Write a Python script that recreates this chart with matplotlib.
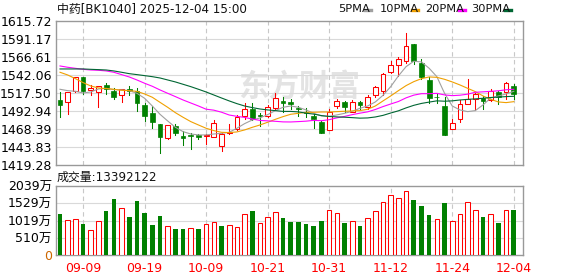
import matplotlib
matplotlib.use('Agg')
import matplotlib.pyplot as plt
from matplotlib.patches import Rectangle
from matplotlib.lines import Line2D

plt.rcParams['font.family'] = ['DejaVu Sans', 'Noto Sans CJK SC']

# ---------------- data ----------------
dates = ['09-04', '09-05', '09-08', '09-09', '09-10', '09-11', '09-12', '09-15', '09-16', '09-17',
         '09-18', '09-19', '09-22', '09-23', '09-24', '09-25', '09-26', '09-29', '09-30', '10-09',
         '10-10', '10-13', '10-14', '10-15', '10-16', '10-17', '10-20', '10-21', '10-22', '10-23',
         '10-24', '10-27', '10-28', '10-29', '10-30', '10-31', '11-03', '11-04', '11-05', '11-06',
         '11-07', '11-10', '11-11', '11-12', '11-13', '11-14', '11-17', '11-18', '11-19', '11-20',
         '11-21', '11-24', '11-25', '11-26', '11-27', '11-28', '12-01', '12-02', '12-03', '12-04']

opens = [1508.4, 1505.2, 1520.2, 1539.3, 1522.0, 1518.9, 1528.9, 1520.2, 1514.8, 1523.4,
         1521.1, 1501.6, 1490.7, 1475.2, 1456.1, 1472.5, 1459.3, 1460.2, 1460.2, 1459.3,
         1458.4, 1445.2, 1462.9, 1468.4, 1486.6, 1495.7, 1488.0, 1487.1, 1497.0, 1507.0,
         1506.1, 1497.5, 1492.0, 1487.1, 1478.9, 1467.5, 1500.2, 1505.6, 1492.5, 1505.6,
         1499.3, 1514.8, 1521.1, 1546.2, 1555.7, 1561.1, 1584.8, 1559.3, 1535.7, 1513.0,
         1500.2, 1468.4, 1482.0, 1503.0, 1509.8, 1511.6, 1508.4, 1519.3, 1519.8, 1527.5]
highs = [1519.8, 1519.5, 1540.0, 1540.0, 1528.9, 1527.9, 1532.0, 1524.3, 1523.4, 1528.0,
         1524.3, 1503.9, 1500.2, 1475.7, 1474.3, 1475.7, 1465.7, 1462.9, 1462.0, 1461.6,
         1481.1, 1462.9, 1475.2, 1487.5, 1504.3, 1504.3, 1491.1, 1501.1, 1518.0, 1513.0,
         1509.3, 1500.2, 1497.0, 1489.3, 1480.2, 1495.7, 1509.3, 1506.6, 1508.0, 1506.6,
         1515.2, 1527.5, 1544.8, 1562.1, 1567.5, 1599.8, 1585.2, 1564.8, 1539.3, 1517.5,
         1512.9, 1482.5, 1508.4, 1536.6, 1518.4, 1513.9, 1523.0, 1520.2, 1533.0, 1530.2]
lows = [1485.7, 1488.9, 1519.5, 1516.6, 1514.7, 1499.3, 1516.6, 1510.2, 1506.1, 1515.8,
        1493.4, 1480.2, 1470.2, 1436.6, 1454.7, 1460.2, 1447.0, 1441.1, 1454.7, 1448.4,
        1457.5, 1438.4, 1462.5, 1467.5, 1482.9, 1481.1, 1473.0, 1484.8, 1495.7, 1492.5,
        1495.7, 1486.6, 1485.7, 1469.8, 1463.9, 1467.0, 1497.0, 1492.0, 1492.0, 1495.7,
        1495.7, 1512.0, 1515.2, 1545.7, 1541.1, 1559.3, 1557.0, 1536.6, 1503.9, 1504.0,
        1460.2, 1468.4, 1478.0, 1502.5, 1494.8, 1495.7, 1507.5, 1503.0, 1509.3, 1510.0]
closes = [1502.0, 1518.9, 1539.3, 1521.1, 1525.2, 1527.5, 1524.0, 1512.5, 1523.0, 1520.7,
          1504.7, 1486.6, 1478.9, 1458.4, 1473.9, 1463.8, 1457.0, 1458.8, 1458.4, 1461.1,
          1476.6, 1461.6, 1464.3, 1485.2, 1495.7, 1483.0, 1486.6, 1499.3, 1510.7, 1504.7,
          1502.5, 1496.6, 1490.7, 1482.0, 1463.9, 1492.0, 1507.0, 1498.8, 1505.2, 1501.1,
          1513.0, 1525.7, 1543.9, 1555.7, 1563.9, 1581.6, 1562.1, 1539.3, 1511.1, 1512.0,
          1460.2, 1476.6, 1502.5, 1509.3, 1516.6, 1507.0, 1520.7, 1513.0, 1531.6, 1516.6]

ma5 = [1523.0, 1521.1, 1520.2, 1518.0, 1519.3, 1523.4, 1524.3, 1522.5, 1522.1, 1521.1,
       1517.5, 1510.7, 1500.2, 1488.9, 1479.8, 1471.1, 1465.2, 1462.0, 1460.7, 1460.7,
       1462.0, 1462.9, 1464.3, 1469.8, 1476.1, 1481.1, 1483.9, 1488.4, 1493.9, 1498.4,
       1500.2, 1498.4, 1494.8, 1490.2, 1486.6, 1486.1, 1488.0, 1490.2, 1493.0, 1497.0,
       1500.2, 1505.7, 1514.8, 1526.6, 1541.2, 1553.9, 1561.2, 1560.3, 1551.6, 1540.2,
       1517.5, 1500.2, 1494.8, 1492.5, 1493.9, 1501.6, 1511.1, 1513.9, 1516.6, 1520.2]
ma10 = [1546.2, 1542.5, 1537.5, 1532.1, 1527.5, 1524.8, 1523.9, 1523.0, 1521.6, 1521.1,
        1520.2, 1516.6, 1512.1, 1505.2, 1498.4, 1491.1, 1484.8, 1478.9, 1474.3, 1469.8,
        1466.6, 1464.3, 1463.9, 1464.8, 1467.5, 1471.1, 1474.3, 1478.0, 1482.0, 1485.7,
        1488.9, 1490.2, 1491.6, 1491.6, 1492.0, 1492.0, 1492.5, 1493.0, 1493.4, 1493.9,
        1495.7, 1500.2, 1507.1, 1513.9, 1521.1, 1528.0, 1533.4, 1537.5, 1539.8, 1539.3,
        1536.6, 1533.0, 1528.9, 1524.3, 1519.8, 1513.9, 1509.3, 1505.7, 1504.8, 1506.1]
ma20 = [1554.8, 1553.0, 1551.6, 1550.2, 1549.3, 1548.9, 1548.0, 1546.2, 1543.0, 1539.8,
        1535.7, 1531.2, 1527.1, 1522.1, 1517.5, 1513.0, 1508.4, 1504.3, 1500.2, 1495.8,
        1494.5, 1491.7, 1487.9, 1486.1, 1484.6, 1482.4, 1480.5, 1479.9, 1479.3, 1478.5,
        1478.4, 1478.9, 1479.5, 1480.6, 1480.1, 1481.5, 1484.0, 1486.0, 1488.4, 1490.4,
        1492.2, 1495.4, 1499.4, 1502.9, 1506.3, 1511.3, 1515.0, 1517.0, 1517.0, 1517.4,
        1515.3, 1514.3, 1514.9, 1516.3, 1518.9, 1519.5, 1520.2, 1520.9, 1522.3, 1523.0]
ma30 = [1550.7, 1550.7, 1550.7, 1550.7, 1550.2, 1549.8, 1549.3, 1548.0, 1546.2, 1544.3,
        1543.0, 1541.6, 1540.2, 1538.4, 1535.7, 1533.0, 1529.8, 1526.6, 1523.0, 1519.3,
        1515.2, 1511.1, 1507.1, 1503.4, 1500.2, 1498.0, 1496.1, 1494.8, 1493.9, 1492.8,
        1492.8, 1492.1, 1490.4, 1489.1, 1487.1, 1485.9, 1485.3, 1484.9, 1484.3, 1483.6,
        1483.9, 1485.2, 1487.4, 1490.6, 1493.6, 1497.6, 1501.1, 1503.7, 1505.5, 1507.2,
        1506.7, 1507.2, 1508.4, 1509.2, 1509.9, 1510.7, 1511.8, 1512.3, 1513.0, 1513.4]

volumes = [1215, 1039, 1058, 921, 745, 1000, 1303, 1656, 1382, 1127,
           1597, 1245, 892, 1156, 853, 774, 774, 794, 774, 911,
           970, 862, 882, 823, 1205, 1303, 941, 1117, 1264, 1098,
           980, 980, 921, 862, 1009, 1323, 1235, 951, 1000, 862,
           1088, 1303, 1558, 1764, 1676, 1882, 1627, 1450, 1186, 1058,
           1539, 1000, 1205, 1558, 1323, 1127, 1205, 951, 1323, 1339.2122]

price_ticks = [1419.28, 1443.83, 1468.39, 1492.94, 1517.50, 1542.06, 1566.61, 1591.17, 1615.72]
vol_ticks = [0, 510, 1019, 1529, 2039]
vol_tick_labels = ['0', '510万', '1019万', '1529万', '2039万']
x_tick_labels = ['09-09', '09-19', '10-09', '10-21', '10-31', '11-12', '11-24', '12-04']

title_text = '中药[BK1040] 2025-12-04 15:00'
volume_title = '成交量:13392122'
ma_labels = ['5PMA', '10PMA', '20PMA', '30PMA']
watermark = '东方财富'

# ---------------- style ----------------
W, H = 578, 276
RED = '#ff0000'
GREEN = '#008000'
MA_COLORS = ['#a0a0a0', '#f0a000', '#ff00ff', '#006633']
SPINE = '#999999'
HGRID = '#d9d9d9'
VGRID = '#c8c8c8'

fig = plt.figure(figsize=(W / 100, H / 100), dpi=100)
fig.patch.set_facecolor('white')


def fx(px):
    return px / W


def fy(py):
    return 1 - py / H


ax = fig.add_axes([fx(56), fy(165.3), fx(467), 144 / H])
axv = fig.add_axes([fx(56), fy(255.3), fx(467), 69.3 / H])

n = len(dates)
xs = list(range(n))
tick_pos = [dates.index(t) for t in x_tick_labels]

for a in (ax, axv):
    a.set_xlim(-0.52, n - 1 + 1.2)
    for s in a.spines.values():
        s.set_color(SPINE)
        s.set_linewidth(1.0)
    for tp in tick_pos:
        a.axvline(tp, color=VGRID, lw=0.8, ls=(0, (4, 3)), zorder=0.5)
    a.tick_params(axis='both', length=0, labelsize=9)

# ---- main price panel ----
ax.set_ylim(price_ticks[0], price_ticks[-1])
ax.set_yticks(price_ticks)
ax.set_yticklabels(['%.2f' % v for v in price_ticks])
ax.tick_params(axis='y', pad=3)
ax.set_xticks([])
for v in price_ticks[1:-1]:
    ax.axhline(v, color=HGRID, lw=0.8, zorder=0.4)

ax.text(0.52, 0.55, watermark, transform=ax.transAxes, ha='center', va='center',
        fontsize=22, fontweight='bold', color='#e3e3e3', zorder=0.3,
        family=['Noto Sans CJK SC'])

bw = 0.62
LW = 0.75
for i in xs:
    o, h, l, c = opens[i], highs[i], lows[i], closes[i]
    if c > o:
        ax.add_patch(Rectangle((i - bw / 2, o), bw, c - o, facecolor='white',
                               edgecolor=RED, lw=LW, zorder=3))
        ax.plot([i, i], [c, h], color=RED, lw=LW, zorder=3)
        ax.plot([i, i], [l, o], color=RED, lw=LW, zorder=3)
    else:
        col = GREEN
        ax.plot([i, i], [l, h], color=col, lw=LW, zorder=3)
        hgt = max(o - c, 0.7)
        ax.add_patch(Rectangle((i - bw / 2, c), bw, hgt, facecolor=col,
                               edgecolor=col, lw=0.5, zorder=3))

for vals, col in zip([ma5, ma10, ma20, ma30], MA_COLORS):
    ax.plot(xs, vals, color=col, lw=0.8, zorder=4)

# ---- volume panel ----
axv.set_ylim(0, vol_ticks[-1])
axv.set_yticks(vol_ticks)
axv.set_yticklabels(vol_tick_labels)
axv.tick_params(axis='y', pad=3)
for lab in axv.get_yticklabels():
    if lab.get_text() == '0':
        lab.set_color('#cc6600')
for v in vol_ticks[1:-1]:
    axv.axhline(v, color=HGRID, lw=0.8, zorder=0.4)
axv.set_xticks(tick_pos)
axv.set_xticklabels(x_tick_labels, color=RED)
axv.tick_params(axis='x', pad=5)

vb = 0.6
for i in xs:
    up = (closes[i] >= closes[i - 1]) if i > 0 else (closes[i] >= opens[i])
    if up:
        axv.add_patch(Rectangle((i - vb / 2, 0), vb, volumes[i], facecolor='white',
                                edgecolor=RED, lw=LW, zorder=3))
    else:
        axv.bar(i, volumes[i], width=vb, color=GREEN, zorder=3)

# ---- texts ----
fig.text(fx(57), fy(9.5), title_text, fontsize=8.6, va='center', ha='left', color='#111111')
fig.text(fx(57), fy(177.5), volume_title, fontsize=8.6, va='center', ha='left', color='#111111')

legend_x = [338, 380, 425, 471]
swatch_x = [365, 412, 459, 505]
for lab, tx, sx, col in zip(ma_labels, legend_x, swatch_x, MA_COLORS):
    fig.text(fx(tx), fy(9.5), lab, fontsize=8.2, va='center', ha='left', color='#111111')
    fig.add_artist(Line2D([fx(sx), fx(sx + 5.5)], [fy(9.5), fy(9.5)], color=col,
                          lw=2.4, transform=fig.transFigure))

fig.savefig('out.png', dpi=100, facecolor='white')
